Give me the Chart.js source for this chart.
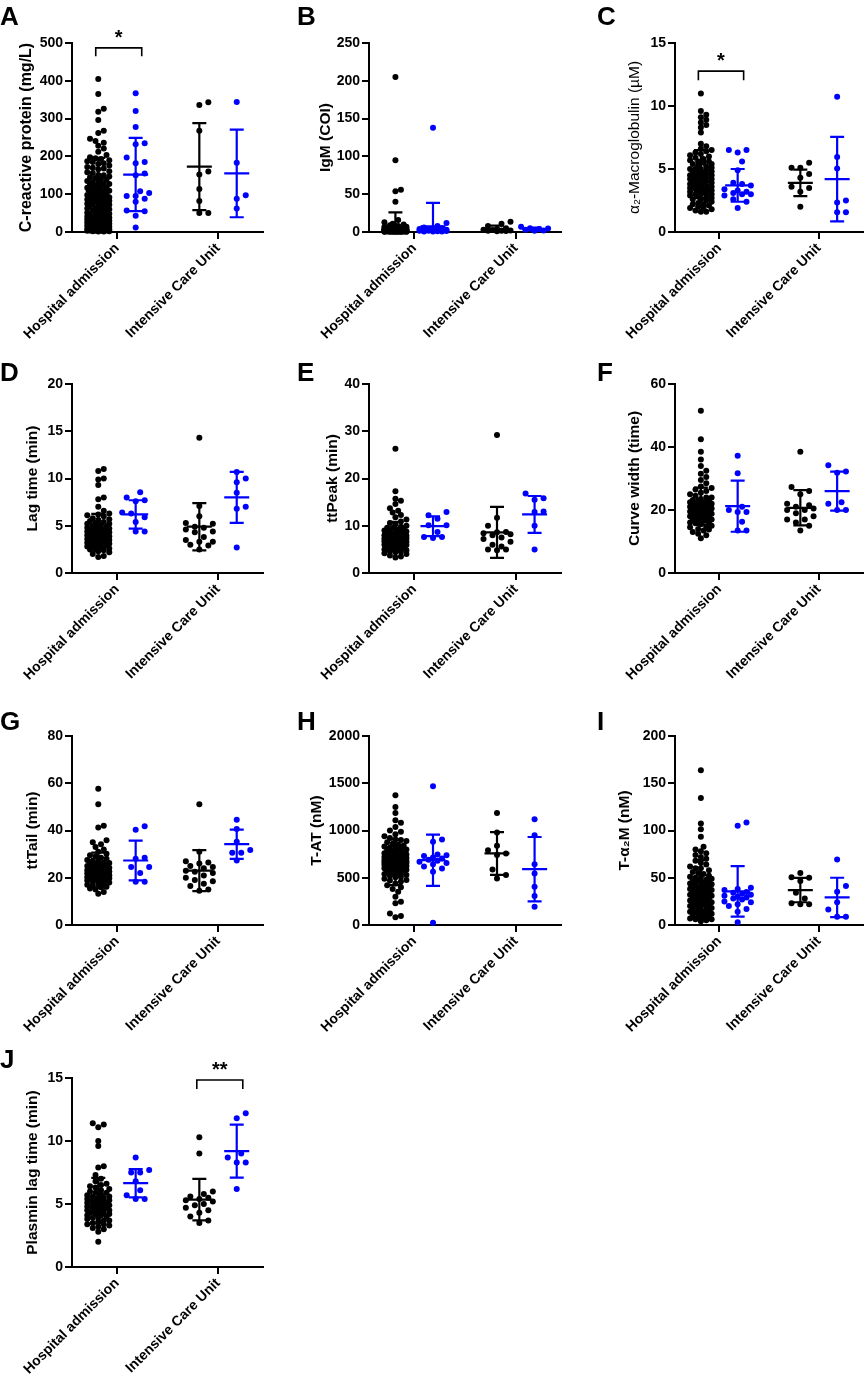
<!DOCTYPE html>
<html>
<head>
<meta charset="utf-8">
<script src="https://cdn.jsdelivr.net/npm/chart.js@4.4.1/dist/chart.umd.min.js"></script>
<style>
  body { margin: 0; background: #fff; width: 867px; height: 1381px; position: relative; overflow: hidden; }
  canvas { position: absolute; }
</style>
</head>
<body>
<script>
var categories = ['Hospital admission', 'Intensive Care Unit'];

// A - C-reactive protein (mg/L)
var crpHospBlack = [405, 365, 326, 318, 296, 268, 262, 247, 241, 236, 228, 221, 212, 204, 198, 195, 193, 187, 185, 182,
    176, 172, 170, 166, 161, 158, 156, 151, 147, 145, 143, 139, 135, 132, 131, 128, 125, 122, 121, 118, 115, 112, 110,
    109, 106, 103, 100, 98, 96, 93, 91, 89, 87, 86, 85, 84, 83, 82, 80, 78, 76, 74, 72, 70, 68, 66, 64, 62, 60, 58, 56,
    54, 52, 50, 48, 46, 44, 42, 40, 39, 38, 36, 35, 34, 33, 31, 30, 29, 28, 27, 26, 25, 24, 23, 22, 21, 20, 19, 18, 17,
    16, 15, 14, 13, 12, 11, 10, 9, 8, 7, 6, 5, 4, 4, 3, 3, 2, 2, 190, 180, 168, 150, 140, 127, 117, 105, 97, 92, 88, 81,
    75, 69, 63, 57, 51, 45, 41, 37, 32, 27, 22, 17, 12, 8, 5, 3, 1, 1];
var crpHospBlue = [367, 320, 278, 235, 232, 197, 185, 182, 155, 150, 108, 103, 95, 95, 88, 80, 57, 55, 43, 12];
var crpIcuBlack = [343, 336, 268, 160, 152, 114, 82, 50, 50];
var crpIcuBlue = [344, 183, 97, 88, 62];
var crpMean = [108, 152, 173, 155];
var crpSd = [88, 97, 115, 116];

// B - IgM (COI)
var igmHospBlack = [205, 95, 56, 54, 40, 16, 13, 11, 10, 9, 8, 8, 7, 7, 6, 6, 6, 5, 5, 5, 5, 4.5, 4.5, 4, 4, 4, 4, 3.5,
    3.5, 3.5, 3, 3, 3, 3, 3, 2.8, 2.6, 2.5, 2.5, 2.4, 2.2, 2, 2, 2, 2, 2, 1.8, 1.8, 1.6, 1.6, 1.5, 1.5, 1.4, 1.4, 1.3,
    1.2, 1.2, 1.1, 1, 1, 1, 1, 1, 0.9, 0.9, 0.8, 0.8, 0.8, 0.7, 0.7, 0.6, 0.6, 0.6, 0.5, 0.5, 0.5, 0.5, 0.4, 0.4, 0.3,
    0.3, 0.3, 0.2, 0.2];
var igmHospBlue = [138, 12, 8, 6, 5, 4.5, 4, 3.5, 3, 3, 2.5, 2, 2, 1.8, 1.5, 1.2, 1, 0.8, 0.6, 0.5];
var igmIcuBlack = [13.5, 11, 8, 5, 4, 3, 2.5, 2, 1.8, 1.5, 1.2, 1];
var igmIcuBlue = [7, 5, 4.5, 4, 3, 2, 1.5];
var igmMean = [5.5, 7.5, 4.2, 3.9];
var igmSd = [20.5, 31, 4.3, 1.9];

// C - alpha2-macroglobulin (uM)
var a2mHospBlack = [11.0, 9.6, 9.3, 9.1, 8.9, 8.7, 8.5, 8.3, 7.9, 7.0, 6.8, 6.6, 6.5, 6.4, 6.2, 6.1, 6.0, 5.9, 5.8, 5.7,
    5.6, 5.5, 5.4, 5.3, 5.2, 5.1, 5.0, 5.0, 4.9, 4.8, 4.8, 4.7, 4.6, 4.6, 4.5, 4.5, 4.4, 4.4, 4.3, 4.3, 4.2, 4.2, 4.1,
    4.1, 4.0, 4.0, 3.9, 3.9, 3.8, 3.8, 3.7, 3.7, 3.6, 3.6, 3.5, 3.5, 3.4, 3.4, 3.3, 3.3, 3.2, 3.2, 3.1, 3.0, 3.0, 2.9,
    2.8, 2.7, 2.6, 2.5, 2.4, 2.3, 2.2, 2.1, 2.0, 1.9, 1.8, 1.7, 1.6, 1.6, 6.3, 5.6, 5.4, 5.0, 4.7, 4.5, 4.3, 4.0, 3.8,
    3.6, 3.4, 3.2, 3.0, 2.8, 2.6, 2.2, 1.9];
var a2mHospBlue = [6.5, 6.5, 6.3, 5.6, 4.9, 3.9, 3.8, 3.7, 3.4, 3.3, 3.2, 3.1, 3.0, 3.0, 2.9, 2.6, 2.4, 1.9];
var a2mIcuBlack = [5.5, 5.1, 5.1, 4.6, 4.3, 3.6, 3.5, 3.2, 2.0];
var a2mIcuBlue = [10.74, 5.96, 5.03, 2.5, 2.34, 1.57, 1.57];
var a2mMean = [4.6, 3.7, 3.9, 4.2];
var a2mSd = [1.9, 1.3, 1.05, 3.35];

// D - Lag time (min)
var lagHospBlack = [11.0, 10.8, 10.0, 9.9, 9.3, 8.0, 7.8, 7.0, 6.6, 6.3, 6.1, 6.0, 5.8, 5.6, 5.5, 5.4, 5.3, 5.2, 5.1,
    5.0, 4.9, 4.8, 4.8, 4.7, 4.6, 4.6, 4.5, 4.5, 4.4, 4.4, 4.3, 4.3, 4.2, 4.2, 4.1, 4.1, 4.0, 4.0, 3.9, 3.9, 3.8, 3.8,
    3.7, 3.7, 3.6, 3.6, 3.5, 3.5, 3.4, 3.4, 3.3, 3.3, 3.2, 3.2, 3.1, 3.1, 3.0, 3.0, 2.9, 2.8, 2.7, 2.6, 2.5, 2.4, 2.2,
    2.0, 1.8, 1.7, 6.2, 5.7, 5.2, 4.9, 4.7, 4.5, 4.3, 4.1, 3.9, 3.7, 3.5, 3.3, 3.1, 2.9, 2.7, 2.5, 2.3];
var lagHospBlue = [8.55, 8.0, 7.7, 7.6, 6.4, 6.3, 5.9, 5.4, 4.4, 4.4];
var lagIcuBlack = [14.3, 7.1, 6.0, 5.3, 5.2, 4.9, 4.8, 4.6, 4.4, 4.3, 3.8, 3.5, 3.3, 3.3, 3.0, 2.9, 2.5];
var lagIcuBlue = [10.7, 10.0, 9.6, 8.5, 7.0, 6.8, 2.7];
var lagMean = [4.5, 6.2, 4.9, 8.0];
var lagSd = [1.75, 1.5, 2.5, 2.7];

// E - ttPeak (min)
var peakHospBlack = [26.3, 17.3, 15.7, 15.3, 14.6, 13.7, 13.2, 12.8, 12.3, 11.8, 11.3, 10.9, 10.6, 10.3, 10.0, 9.8,
    9.6, 9.4, 9.2, 9.0, 8.8, 8.6, 8.5, 8.4, 8.2, 8.1, 8.0, 7.9, 7.8, 7.7, 7.6, 7.5, 7.4, 7.3, 7.2, 7.1, 7.0, 6.9, 6.8,
    6.7, 6.6, 6.5, 6.4, 6.3, 6.2, 6.1, 6.0, 5.9, 5.8, 5.6, 5.4, 5.2, 5.0, 4.8, 4.6, 4.4, 4.2, 4.0, 3.7, 3.5, 3.3, 9.5,
    8.9, 8.3, 7.9, 7.6, 7.3, 7.0, 6.8, 6.5, 6.2, 5.9, 5.5, 5.1, 4.5];
var peakHospBlue = [12.9, 12.2, 11.5, 10.1, 10.1, 8.7, 7.6, 7.6, 7.4];
var peakIcuBlack = [29.2, 11.7, 10.0, 8.7, 8.6, 8.4, 8.2, 8.0, 7.5, 7.2, 6.6, 6.0, 5.6, 5.0, 5.0, 4.8];
var peakIcuBlue = [16.8, 15.8, 15.5, 13.0, 12.9, 10.0, 5.0];
var peakMean = [7.9, 9.9, 8.6, 12.4];
var peakSd = [2.9, 2.1, 5.4, 3.9];

// F - Curve width (time)
var widthHospBlack = [51.5, 42.5, 38.5, 36.0, 34.0, 32.5, 31.5, 30.5, 29.5, 28.5, 27.5, 27.0, 26.5, 26.0, 25.5, 25.0,
    24.5, 24.0, 23.5, 23.0, 23.0, 22.5, 22.5, 22.0, 22.0, 21.5, 21.5, 21.0, 21.0, 20.5, 20.5, 20.0, 20.0, 19.5, 19.5,
    19.0, 19.0, 18.5, 18.5, 18.0, 18.0, 17.5, 17.0, 17.0, 16.5, 16.0, 16.0, 15.5, 15.0, 14.5, 14.0, 13.5, 13.0, 12.5,
    12.0, 11.0, 24.0, 23.2, 22.2, 21.8, 21.2, 20.8, 20.2, 19.8, 19.2, 18.8, 18.2, 17.8, 17.2, 16.8, 15.8, 14.8, 13.8];
var widthHospBlue = [37.2, 31.7, 21.0, 20.0, 19.4, 19.4, 16.3, 13.5, 13.5];
var widthIcuBlack = [38.5, 27.3, 26.0, 25.0, 22.0, 21.5, 21.0, 20.5, 20.0, 20.0, 19.0, 18.0, 17.0, 17.0, 16.0, 15.0, 13.5];
var widthIcuBlue = [34.2, 32.2, 31.8, 22.5, 22.0, 20.0, 20.0];
var widthMean = [21.2, 21.2, 20.7, 26.0];
var widthSd = [5.9, 8.1, 5.6, 6.2];

// G - ttTail (min)
var tailHospBlack = [57.7, 51.1, 42.0, 41.3, 35.9, 35.0, 34.2, 33.0, 32.0, 31.0, 30.2, 29.5, 29.0, 28.5, 28.0, 27.5,
    27.0, 26.5, 26.0, 25.8, 25.5, 25.0, 24.8, 24.5, 24.2, 24.0, 23.8, 23.5, 23.2, 23.0, 22.8, 22.5, 22.2, 22.0, 21.8,
    21.5, 21.2, 21.0, 20.8, 20.5, 20.2, 20.0, 19.8, 19.5, 19.2, 19.0, 18.5, 18.0, 17.5, 17.0, 16.5, 16.0, 15.5, 15.0,
    14.0, 13.2, 27.2, 26.2, 25.2, 24.4, 23.6, 23.1, 22.6, 22.1, 21.6, 21.1, 20.6, 20.1, 19.6, 18.8, 18.2, 17.2, 16.2];
var tailHospBlue = [41.8, 40.3, 28.5, 28.0, 24.6, 24.6, 22.0, 18.3, 18.3];
var tailIcuBlack = [51.1, 31.0, 27.0, 26.5, 26.0, 25.0, 24.5, 24.0, 23.0, 22.5, 22.0, 21.0, 20.0, 19.0, 18.5, 17.5,
    16.5, 15.0, 14.5];
var tailIcuBlue = [44.6, 40.6, 35.2, 31.7, 30.6, 30.6, 27.3];
var tailMean = [23.2, 27.3, 23.0, 34.2];
var tailSd = [7.4, 8.4, 8.7, 6.2];

// H - T-AT (nM)
var tatHospBlack = [1373, 1250, 1186, 1109, 1081, 1038, 1000, 986, 960, 940, 920, 905, 890, 875, 860, 850, 840, 830,
    820, 810, 800, 790, 780, 770, 760, 750, 745, 740, 735, 730, 725, 720, 715, 710, 705, 700, 695, 690, 685, 680, 677,
    674, 671, 668, 665, 662, 659, 656, 653, 650, 645, 640, 635, 630, 625, 620, 615, 610, 600, 590, 580, 570, 560, 550,
    540, 530, 520, 505, 490, 475, 460, 440, 420, 400, 380, 352, 300, 246, 229, 123, 95, 81, 900, 820, 775, 755, 728,
    712, 698, 688, 672, 660, 648, 633, 618, 604, 585, 565, 545, 510, 470];
var tatHospBlue = [1468, 905, 880, 745, 739, 729, 715, 704, 690, 680, 669, 655, 644, 620, 598, 563, 25];
var tatIcuBlack = [1186, 979, 838, 792, 757, 740, 588, 528, 493];
var tatIcuBlue = [1119, 950, 644, 546, 405, 306, 194];
var tatMean = [665, 686, 757, 591];
var tatSd = [242, 271, 226, 340];

// I - T-alpha2M (nM)
var ta2mHospBlack = [163.7, 134.5, 107.4, 101.4, 93.3, 82.7, 80, 78, 76, 74, 72, 70, 68, 66, 64, 62, 60, 58, 56, 54,
    52, 51, 50, 49, 48, 47, 46, 45, 44, 43, 42, 41, 40, 39, 38, 37, 36, 35, 34, 33, 32, 31, 30, 29, 28, 27, 26, 25, 24,
    23, 22, 21, 20, 19, 18, 17, 16, 15, 14, 13, 12, 11, 10, 9, 8, 7, 6, 5, 4, 60, 55, 50, 47, 44, 42, 40, 38, 36, 34,
    32, 30, 28, 26, 24, 22, 20, 17, 14, 11, 8, 6];
var ta2mHospBlue = [108.5, 105, 39.5, 38, 37, 35, 34, 33, 32, 31, 30, 29, 28, 27, 25, 24, 22, 20, 17, 14, 3];
var ta2mIcuBlack = [55, 50.5, 50, 46.5, 34, 28, 23, 22, 22];
var ta2mIcuBlue = [69.3, 41.2, 35.2, 24, 16.5, 8.8, 8.8];
var ta2mMean = [41, 35.5, 37, 29.2];
var ta2mSd = [27.7, 26.7, 12.9, 20.8];

// J - Plasmin lag time (min)
var plagHospBlack = [11.4, 11.3, 11.1, 10.0, 9.6, 8.0, 7.9, 7.3, 7.0, 6.8, 6.6, 6.5, 6.3, 6.2, 6.1, 6.0, 5.9, 5.8, 5.7,
    5.6, 5.5, 5.5, 5.4, 5.4, 5.3, 5.3, 5.2, 5.2, 5.1, 5.1, 5.0, 5.0, 4.9, 4.9, 4.8, 4.8, 4.7, 4.7, 4.6, 4.6, 4.5, 4.5,
    4.4, 4.4, 4.3, 4.3, 4.2, 4.2, 4.1, 4.0, 3.9, 3.8, 3.7, 3.6, 3.5, 3.4, 3.3, 3.2, 3.0, 2.8, 2.0, 6.4, 5.9, 5.6, 5.3,
    5.1, 4.9, 4.7, 4.5, 4.3, 4.1, 3.9, 3.7, 3.4, 3.1];
var plagHospBlue = [8.7, 7.7, 7.5, 7.5, 6.8, 6.1, 5.7, 5.4, 5.4];
var plagIcuBlack = [10.3, 9.0, 6.0, 5.8, 5.6, 5.5, 5.4, 5.3, 5.2, 5.0, 4.9, 4.7, 4.5, 4.3, 4.0, 3.7, 3.5];
var plagIcuBlue = [12.2, 11.8, 9.0, 8.7, 8.3, 8.3, 6.2];
var plagMean = [5.27, 6.65, 5.35, 9.2];
var plagSd = [1.8, 1.12, 1.65, 2.1];

var panels = [
    {letter: 'A', row: 0, col: 0, title: 'C-reactive protein (mg/L)', titleX: 27, titleSize: 16, max: 500, step: 100,
        groups: [crpHospBlack, crpHospBlue, crpIcuBlack, crpIcuBlue], mean: crpMean, sd: crpSd,
        sig: {cat: 1, text: '*', top: 487, leg: 465}},
    {letter: 'B', row: 0, col: 1, title: 'IgM (COI)', titleX: 36, max: 250, step: 50,
        groups: [igmHospBlack, igmHospBlue, igmIcuBlack, igmIcuBlue], mean: igmMean, sd: igmSd},
    {letter: 'C', row: 0, col: 2, title: 'α₂-Macroglobulin (µM)', titleX: 55, max: 15, step: 5, titleWeight: 'normal',
        groups: [a2mHospBlack, a2mHospBlue, a2mIcuBlack, a2mIcuBlue], mean: a2mMean, sd: a2mSd,
        sig: {cat: 1, text: '*', top: 12.77, leg: 12.05}},
    {letter: 'D', row: 1, col: 0, title: 'Lag time (min)', titleX: 33, max: 20, step: 5,
        groups: [lagHospBlack, lagHospBlue, lagIcuBlack, lagIcuBlue], mean: lagMean, sd: lagSd},
    {letter: 'E', row: 1, col: 1, title: 'ttPeak (min)', titleX: 43, max: 40, step: 10,
        groups: [peakHospBlack, peakHospBlue, peakIcuBlack, peakIcuBlue], mean: peakMean, sd: peakSd},
    {letter: 'F', row: 1, col: 2, title: 'Curve width (time)', titleX: 55, max: 60, step: 20,
        groups: [widthHospBlack, widthHospBlue, widthIcuBlack, widthIcuBlue], mean: widthMean, sd: widthSd},
    {letter: 'G', row: 2, col: 0, title: 'ttTail (min)', titleX: 33, max: 80, step: 20,
        groups: [tailHospBlack, tailHospBlue, tailIcuBlack, tailIcuBlue], mean: tailMean, sd: tailSd},
    {letter: 'H', row: 2, col: 1, title: 'T-AT (nM)', titleX: 27, max: 2000, step: 500,
        groups: [tatHospBlack, tatHospBlue, tatIcuBlack, tatIcuBlue], mean: tatMean, sd: tatSd},
    {letter: 'I', row: 2, col: 2, title: 'T-α₂M (nM)', titleX: 45, max: 200, step: 50,
        groups: [ta2mHospBlack, ta2mHospBlue, ta2mIcuBlack, ta2mIcuBlue], mean: ta2mMean, sd: ta2mSd},
    {letter: 'J', row: 3, col: 0, title: 'Plasmin lag time (min)', titleX: 33, max: 15, step: 5,
        groups: [plagHospBlack, plagHospBlue, plagIcuBlack, plagIcuBlue], mean: plagMean, sd: plagSd,
        sig: {cat: 2, text: '**', top: 14.84, leg: 14.13}}
];

// page layout
var colLeft = [0, 290, 580], colWidth = [290, 290, 287];
var axisLeft = [72, 79, 95], axisRight = [263, 271, 287];
var rowTop = [0, 341, 693, 1035], letterBase = [25, 40, 37, 33], letterX = [0, 7, 17];
var canvasH = 341, plotTop = 43, plotBottom = 232;
var xMin = 0.555, xMax = 2.445;
var groupX = [0.815, 1.185, 1.815, 2.185];
var colors = ['#000000', '#0000ff', '#000000', '#0000ff'];
var fontFamily = '"Liberation Sans", Arial, Helvetica, sans-serif';

Chart.defaults.font.family = fontFamily;
Chart.defaults.color = '#000';

// spread dots sideways so they do not sit on top of each other (dot plot look)
function swarm(values, cx, ySc, xSc) {
    var dense = values.length > 30;
    var minDist = dense ? 5.0 : 9.0, step = dense ? 2.75 : 4.5, steps = dense ? 4 : 3;
    var offsets = [0];
    for (var k = 1; k <= steps; k++) {
        offsets.push(k * step, -k * step);
    }
    var placed = [], pts = [];
    values.slice().sort(function (a, b) { return a - b; }).forEach(function (v) {
        var py = v * ySc, best = 0, bestD = -1;
        for (var i = 0; i < offsets.length; i++) {
            var o = offsets[i], dmin = Infinity;
            for (var j = 0; j < placed.length; j++) {
                var dy = placed[j][1] - py;
                if (Math.abs(dy) >= minDist) continue;
                var d = Math.hypot(placed[j][0] - o, dy);
                if (d < dmin) dmin = d;
            }
            if (dmin >= minDist) { best = o; break; }
            if (dmin > bestD) { bestD = dmin; best = o; }
        }
        placed.push([best, py]);
        pts.push({x: cx + best / xSc, y: v});
    });
    return pts;
}

function makePanel(p) {
    var canvas = document.createElement('canvas');
    canvas.width = colWidth[p.col];
    canvas.height = canvasH;
    canvas.style.left = colLeft[p.col] + 'px';
    canvas.style.top = rowTop[p.row] + 'px';
    canvas.style.width = colWidth[p.col] + 'px';
    canvas.style.height = canvasH + 'px';
    document.body.appendChild(canvas);

    var aLeft = axisLeft[p.col], aRight = axisRight[p.col];
    var ySc = (plotBottom - plotTop) / p.max;
    var xSc = (aRight - aLeft) / (xMax - xMin);
    var titleSize = p.titleSize || 15.5;

    var datasets = p.groups.map(function (vals, i) {
        return {
            data: swarm(vals, groupX[i], ySc, xSc),
            backgroundColor: colors[i],
            pointRadius: 3,
            pointBorderWidth: 0,
            clip: false
        };
    });

    var overlay = {
        id: 'overlay',
        afterDatasetsDraw: function (chart) {
            var ctx = chart.ctx, x = chart.scales.x, y = chart.scales.y;
            ctx.save();
            ctx.lineWidth = 2.2;
            p.mean.forEach(function (m, i) {
                var cx = x.getPixelForValue(groupX[i]);
                var pm = y.getPixelForValue(m);
                var ph = y.getPixelForValue(m + p.sd[i]);
                var lowVal = m - p.sd[i];
                var pl = y.getPixelForValue(Math.max(0, lowVal));
                ctx.strokeStyle = colors[i];
                ctx.beginPath();
                ctx.moveTo(cx, ph); ctx.lineTo(cx, pl);
                ctx.moveTo(cx - 7, ph); ctx.lineTo(cx + 7, ph);
                if (lowVal > 0) {
                    ctx.moveTo(cx - 7, pl); ctx.lineTo(cx + 7, pl);
                }
                ctx.moveTo(cx - 12.5, pm); ctx.lineTo(cx + 12.5, pm);
                ctx.stroke();
            });
            if (p.sig) {
                var x0 = x.getPixelForValue(p.sig.cat - 0.21);
                var x1 = x.getPixelForValue(p.sig.cat + 0.245);
                var yt = y.getPixelForValue(p.sig.top);
                var yl = y.getPixelForValue(p.sig.leg);
                ctx.strokeStyle = '#000';
                ctx.lineWidth = 1.6;
                ctx.beginPath();
                ctx.moveTo(x0, yl); ctx.lineTo(x0, yt); ctx.lineTo(x1, yt); ctx.lineTo(x1, yl);
                ctx.stroke();
                ctx.fillStyle = '#000';
                ctx.font = 'bold 20px ' + fontFamily;
                ctx.textAlign = 'center';
                ctx.textBaseline = 'alphabetic';
                ctx.fillText(p.sig.text, (x0 + x1) / 2, yt - 4);
            }
            ctx.fillStyle = '#000';
            ctx.font = 'bold 26px ' + fontFamily;
            ctx.textAlign = 'left';
            ctx.textBaseline = 'alphabetic';
            ctx.fillText(p.letter, letterX[p.col], letterBase[p.row]);
            ctx.restore();
        }
    };

    var tickFont = {size: 14, weight: 'bold', family: fontFamily};
    var gridOpts = {display: true, drawOnChartArea: false, drawTicks: true, tickLength: 7, lineWidth: 2, color: '#000'};
    var borderOpts = {display: true, color: '#000', width: 2};

    new Chart(canvas, {
        type: 'scatter',
        data: {datasets: datasets},
        options: {
            responsive: false,
            animation: false,
            events: [],
            layout: {padding: {left: 0, top: plotTop, right: colWidth[p.col] - aRight, bottom: 0}},
            plugins: {legend: {display: false}, tooltip: {enabled: false}},
            scales: {
                x: {
                    type: 'linear', min: xMin, max: xMax,
                    afterBuildTicks: function (s) { s.ticks = [{value: 1}, {value: 2}]; },
                    afterFit: function (s) { s.height = canvasH - plotBottom; },
                    ticks: {
                        callback: function (v, i) { return categories[i]; },
                        minRotation: 45, maxRotation: 45, autoSkip: false,
                        font: tickFont, color: '#000', padding: 1
                    },
                    grid: gridOpts,
                    border: borderOpts
                },
                y: {
                    min: 0, max: p.max,
                    afterFit: function (s) { s.width = aLeft; },
                    ticks: {
                        stepSize: p.step, font: tickFont, color: '#000', padding: 2,
                        callback: function (v) { return String(v); }
                    },
                    grid: gridOpts,
                    border: borderOpts,
                    title: {
                        display: true, text: p.title, color: '#000',
                        font: {size: titleSize, weight: p.titleWeight || 'bold', family: fontFamily},
                        padding: {top: p.titleX - titleSize * 0.6, bottom: 0}
                    }
                }
            }
        },
        plugins: [overlay]
    });
}

panels.forEach(makePanel);
</script>
</body>
</html>
